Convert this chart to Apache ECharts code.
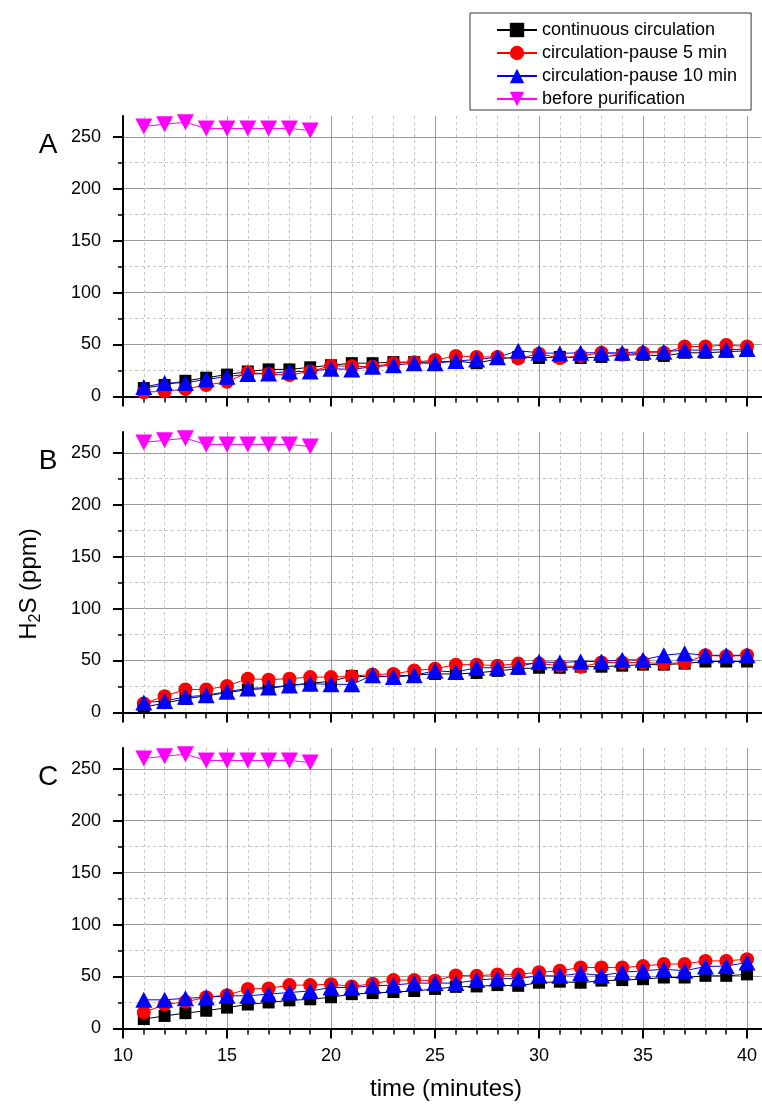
<!DOCTYPE html>
<html>
<head>
<meta charset="utf-8">
<script src="https://cdn.jsdelivr.net/npm/echarts@6/dist/echarts.min.js"></script>
<style>
html, body { margin: 0; padding: 0; background: #fff; }
#chart { width: 762px; height: 1108px; }
</style>
</head>
<body>
<div id="chart"></div>
<script>
// time axis (minutes)
const time = [11, 12, 13, 14, 15, 16, 17, 18, 19, 20, 21, 22, 23, 24, 25, 26, 27, 28, 29, 30, 31, 32, 33, 34, 35, 36, 37, 38, 39, 40];
const timeBefore = [11, 12, 13, 14, 15, 16, 17, 18, 19];
const xTicks = [10, 15, 20, 25, 30, 35, 40];
const xMinorTicks = [11, 12, 13, 14, 16, 17, 18, 19, 21, 22, 23, 24, 26, 27, 28, 29, 31, 32, 33, 34, 36, 37, 38, 39];
const yTicks = [0, 50, 100, 150, 200, 250];
const yMinorTicks = [25, 75, 125, 175, 225];

const seriesNames = ['continuous circulation', 'circulation-pause 5 min', 'circulation-pause 10 min', 'before purification'];
const panelLabels = ['A', 'B', 'C'];

// H2S (ppm) before purification, same in all panels
const beforePurification = [260, 262, 264, 258, 258, 258, 258, 258, 256];

// panel A
const contA = [8, 11, 15, 18, 21, 24, 26, 26, 28, 30, 32, 32, 33, 33, 33, 34, 32, 36, 38, 37, 38, 37, 38, 40, 40, 39, 42, 42, 43, 44];
const pause5A = [4, 5, 7, 11, 14, 23, 21.5, 20.5, 24, 29.5, 29, 28.6, 32, 33, 35, 39, 38, 38, 36.6, 41, 37, 39, 42, 40, 42, 42, 48, 48, 49.5, 48];
const pause10A = [9, 13, 13, 16.4, 19, 21.5, 22, 24, 24, 26.7, 26, 28.6, 30, 32, 32, 34, 35.6, 37.6, 44, 42, 41.4, 42, 42, 42, 43, 43, 44.6, 44.6, 45, 45.6];

// panel B
const contB = [5, 9, 13, 16, 19, 22, 23, 26, 28, 30, 35, 34, 35, 36, 37, 37, 38, 40, 42, 43, 43, 44, 44, 45, 46, 46, 47, 49, 49, 49];
const pause5B = [8.6, 15.6, 22, 22, 25.5, 32.5, 31.5, 32.5, 34, 34, 34.7, 36.6, 37, 40.4, 42, 46, 46, 45, 47, 47, 45, 44, 48, 48, 48, 47, 48, 55, 54, 55];
const pause10B = [9.5, 11, 15, 16.5, 20, 23, 24, 26, 27.7, 27, 27, 35.7, 34, 35.7, 40, 39, 43, 43, 44, 48.7, 48, 49, 49, 50.6, 50.6, 55, 57, 55, 55, 55];

// panel C
const contC = [9, 12, 14.7, 17, 20, 23, 25, 27, 28, 30, 33, 34, 35, 36, 38, 40, 40.4, 41.7, 41, 44, 45, 44, 46, 46.5, 47.4, 49, 49, 50.6, 50.6, 52];
const pause5C = [15.4, 23, 25.6, 30, 32, 38, 38.5, 41.7, 41.7, 42.6, 40.4, 43, 46.5, 46.5, 46, 51, 50.6, 52, 52, 54, 55.5, 58.6, 58.6, 58.6, 60, 62, 62, 65, 65, 66.7];
const pause10C = [27.5, 27.5, 29, 30, 31.4, 31.4, 33, 34.6, 36, 39.4, 39.4, 41, 41.7, 43.6, 43.6, 43.6, 46.5, 48, 48, 50.6, 50.6, 53, 51, 54, 55.5, 57, 55.5, 59.6, 60, 63.5];

const panelData = [
  [contA, pause5A, pause10A],
  [contB, pause5B, pause10B],
  [contC, pause5C, pause10C]
];

const font = "'Liberation Sans', Arial, sans-serif";
const colors = ['#000000', '#ff0000', '#0000ff', '#ff00ff'];
const symbols = ['rect', 'circle', 'triangle', 'triangle'];
const symbolSizes = [12, 14, [17, 16], [17, 16]];
const gridTops = [116, 432, 748];

const pairs = (xs, ys) => xs.map((x, i) => [x, ys[i]]);

const grid = [], xAxis = [], yAxis = [], series = [], graphic = [];

gridTops.forEach((top, p) => {
  grid.push({left: 123, top: top, width: 638.6, height: 280.4});

  // minor axes first (dashed grid underneath)
  xAxis.push({
    gridIndex: p, type: 'value', position: 'bottom', min: 10, max: 40.7, interval: 1,
    axisLine: {show: false, onZero: false},
    axisTick: {show: true, length: 6, customValues: xMinorTicks, lineStyle: {color: '#000', width: 1.5}},
    axisLabel: {show: false},
    splitLine: {show: true, lineStyle: {color: '#c4c4c4', width: 1, type: [3, 3]}}
  });
  xAxis.push({
    gridIndex: p, type: 'value', position: 'bottom', min: 10, max: 40.7, interval: 5,
    axisLine: {show: true, onZero: false, lineStyle: {color: '#000', width: 2}},
    axisTick: {show: true, length: 10, customValues: xTicks, lineStyle: {color: '#000', width: 2}},
    axisLabel: {show: p === 2, customValues: xTicks, margin: 19, fontSize: 18, color: '#000', fontFamily: font},
    splitLine: {show: true, lineStyle: {color: '#9a9a9a', width: 1}}
  });
  yAxis.push({
    gridIndex: p, type: 'value', position: 'left', min: 0, max: 270, interval: 25,
    axisLine: {show: false, onZero: false},
    axisTick: {show: true, length: 5, customValues: yMinorTicks, lineStyle: {color: '#000', width: 1.5}},
    axisLabel: {show: false},
    splitLine: {show: true, lineStyle: {color: '#c4c4c4', width: 1, type: [3, 3]}}
  });
  yAxis.push({
    gridIndex: p, type: 'value', position: 'left', min: 0, max: 270, interval: 50,
    axisLine: {show: true, onZero: false, lineStyle: {color: '#000', width: 2}},
    axisTick: {show: true, length: 10, customValues: yTicks, lineStyle: {color: '#000', width: 2}},
    axisLabel: {show: true, customValues: yTicks, margin: 22, fontSize: 18, color: '#000', fontFamily: font},
    splitLine: {show: true, lineStyle: {color: '#9a9a9a', width: 1}}
  });

  const lists = panelData[p].concat([beforePurification]);
  lists.forEach((vals, s) => {
    series.push({
      type: 'line',
      name: seriesNames[s],
      xAxisIndex: 2 * p + 1,
      yAxisIndex: 2 * p + 1,
      data: pairs(s === 3 ? timeBefore : time, vals),
      symbol: symbols[s],
      symbolSize: symbolSizes[s],
      symbolRotate: s === 3 ? 180 : 0,
      showAllSymbol: true,
      lineStyle: {color: colors[s], width: 1},
      itemStyle: {color: colors[s]},
      animation: false
    });
  });

  graphic.push({
    type: 'text', x: 48, y: top + 29,
    style: {text: panelLabels[p], fill: '#000', font: '28px ' + font, align: 'center', verticalAlign: 'middle'}
  });
});

graphic.push({
  type: 'text', x: 446, y: 1089,
  style: {text: 'time (minutes)', font: '24px ' + font, fill: '#000', align: 'center', verticalAlign: 'middle'}
});
graphic.push({
  type: 'text', x: 29, y: 584, rotation: Math.PI / 2,
  style: {
    text: '{a|H}{b|2}{a|S (ppm)}',
    align: 'center', verticalAlign: 'middle',
    rich: {
      a: {fontSize: 24, fontFamily: font, fill: '#000', lineHeight: 30, verticalAlign: 'middle'},
      b: {fontSize: 16, fontFamily: font, fill: '#000', lineHeight: 30, padding: [14, 0, 0, 0]}
    }
  }
});

const chart = echarts.init(document.getElementById('chart'));
chart.setOption({
  backgroundColor: '#fff',
  animation: false,
  grid: grid,
  xAxis: xAxis,
  yAxis: yAxis,
  legend: {
    left: 470, top: 13, orient: 'vertical',
    itemWidth: 40, itemHeight: 18, itemGap: 5,
    padding: [8, 14, 2, 26],
    borderColor: '#333', borderWidth: 1, borderRadius: 0,
    backgroundColor: '#fff',
    symbolRotate: 'inherit',
    textStyle: {fontSize: 18, color: '#000', fontFamily: font, lineHeight: 18},
    data: seriesNames
  },
  series: series,
  graphic: graphic
});
</script>
</body>
</html>
